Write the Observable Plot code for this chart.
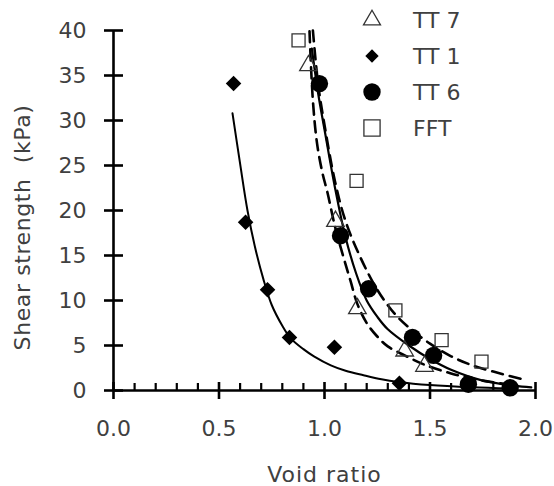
<!DOCTYPE html>
<html>
<head>
<meta charset="utf-8">
<script src="https://cdn.jsdelivr.net/npm/d3@7"></script>
<script src="https://cdn.jsdelivr.net/npm/@observablehq/plot@0.6"></script>
<style>
  html, body { margin: 0; padding: 0; background: #fff; }
  #wrap { position: relative; width: 554px; height: 486px; font-family: 'DejaVu Sans', sans-serif; }
  #legend { position: absolute; left: 360px; top: 2px; color: #404040; font-size: 22px; }
  .row { display: flex; align-items: center; height: 36px; }
  .row span { margin-left: 29px; }
  g[aria-label="x-axis label"] text { letter-spacing: 1px; }
  .ytitle text { letter-spacing: 0.6px; }
</style>
</head>
<body>
<div id="wrap">
  <div id="chart"></div>
  <div id="legend"></div>
</div>
<script>
// ---- measured points ----
const tt7X = [0.924, 1.052, 1.156, 1.38, 1.474];
const tt7Y = [36.1, 18.8, 9.1, 4.4, 2.7];
const tt1X = [0.569, 0.626, 0.73, 0.834, 1.047, 1.355];
const tt1Y = [34.1, 18.7, 11.2, 5.9, 4.8, 0.8];
const tt6X = [0.976, 1.076, 1.209, 1.417, 1.517, 1.682, 1.88];
const tt6Y = [34.1, 17.2, 11.3, 5.9, 3.9, 0.7, 0.3];
const fftX = [0.877, 1.152, 1.336, 1.555, 1.744];
const fftY = [38.9, 23.3, 8.9, 5.6, 3.2];

// ---- fitted curves ----
const tt1FitX = [0.564, 0.6, 0.635, 0.67, 0.71, 0.75, 0.8, 0.84, 0.9, 0.95, 1.03, 1.1, 1.185, 1.27, 1.35, 1.5, 1.7, 1.9];
const tt1FitY = [30.8, 25.2, 20, 16.0, 12.4, 9.5, 7.2, 5.8, 4.6, 3.8, 2.8, 2.2, 1.7, 1.25, 0.95, 0.6, 0.35, 0.2];
const tt6FitX = [0.94, 0.97, 1.0, 1.05, 1.1, 1.15, 1.2, 1.25, 1.3, 1.4, 1.5, 1.6, 1.75, 1.9, 1.98];
const tt6FitY = [38, 33, 29, 22.5, 17, 13, 10, 8.2, 6.8, 5.0, 3.5, 2.3, 1.1, 0.55, 0.35];
const tt7FitX = [0.929, 0.945, 0.965, 0.99, 1.014, 1.05, 1.09, 1.123, 1.156, 1.2, 1.25, 1.3, 1.38, 1.47, 1.6, 1.75, 1.9];
const tt7FitY = [39.9, 32.2, 27.4, 24.2, 22.0, 18.2, 14.8, 12.2, 9.6, 7.5, 6.0, 4.9, 3.9, 2.9, 1.9, 1.1, 0.6];
const fftFitX = [0.945, 0.97, 1.0, 1.05, 1.1, 1.17, 1.25, 1.33, 1.4, 1.5, 1.6, 1.7, 1.8, 1.93];
const fftFitY = [40, 34, 29.5, 23.2, 18.8, 14.8, 11.2, 8.6, 7.0, 5.2, 3.8, 2.8, 2.1, 1.3];

// ---- axes ----
const yTicks = [0, 5, 10, 15, 20, 25, 30, 35, 40];
const xMajor = [0, 0.5, 1.0, 1.5, 2.0];
const xMinor = [0.1, 0.2, 0.3, 0.4, 0.6, 0.7, 0.8, 0.9, 1.1, 1.2, 1.3, 1.4, 1.6, 1.7, 1.8, 1.9];
const xTitle = "Void ratio";
const yTitle = "Shear strength\u00a0 (kPa)";

// ---- legend ----
const legendNames = ["TT 7", "TT 1", "TT 6", "FFT"];

const zip = (xs, ys) => xs.map((x, i) => ({x, y: ys[i]}));

const lineBase = {x: "x", y: "y", stroke: "black", curve: "catmull-rom"};
const axisStroke = {stroke: "black", strokeWidth: 2.6};

const chart = Plot.plot({
  width: 554,
  height: 486,
  marginLeft: 113,
  marginRight: 19,
  marginTop: 30,
  marginBottom: 96,
  style: {fontFamily: "'DejaVu Sans', sans-serif", fontSize: "22px", color: "#404040", background: "white", overflow: "visible"},
  x: {domain: [0, 2]},
  y: {domain: [0, 40]},
  marks: [
    Plot.line(zip(tt1FitX, tt1FitY), {...lineBase, strokeWidth: 2}),
    Plot.line(zip(tt6FitX, tt6FitY), {...lineBase, strokeWidth: 2.2}),
    Plot.line(zip(tt7FitX, tt7FitY), {...lineBase, strokeWidth: 2.6, strokeDasharray: "11,7"}),
    Plot.line(zip(fftFitX, fftFitY), {...lineBase, strokeWidth: 2.6, strokeDasharray: "11,7"}),
    // axis lines
    Plot.ruleX([0], axisStroke),
    Plot.ruleY([0], axisStroke),
    // y ticks crossing the axis
    Plot.ruleY(yTicks, {y: d => d, x1: 0, x2: 0, insetLeft: -9, insetRight: -10, ...axisStroke}),
    // x major ticks crossing, minor ticks upward
    Plot.ruleX(xMajor, {x: d => d, y1: 0, y2: 0, insetTop: -8, insetBottom: -9, ...axisStroke}),
    Plot.ruleX(xMinor, {x: d => d, y1: 0, y2: 0, insetTop: -7, insetBottom: 0, stroke: "black", strokeWidth: 2.2}),
    // labels
    Plot.axisY({ticks: yTicks, tickSize: 0, tickPadding: 27, label: null}),
    Plot.text([yTitle], {text: d => d, frameAnchor: "left", textAnchor: "middle", lineAnchor: "middle", rotate: -90, dx: -91, dy: 17, fill: "#404040", fontSize: 22, className: "ytitle"}),
    Plot.axisX({ticks: xMajor, tickSize: 0, tickPadding: 30, tickFormat: d => d.toFixed(1), label: xTitle, labelAnchor: "center", labelOffset: 91, labelArrow: "none"}),
    // markers
    Plot.dot(zip(tt1X, tt1Y), {x: "x", y: "y", symbol: "diamond2", r: 7, fill: "black"}),
    Plot.dot(zip(tt6X, tt6Y), {x: "x", y: "y", symbol: "circle", r: 8.7, fill: "black"}),
    Plot.dot(zip(tt7X, tt7Y), {x: "x", y: "y", symbol: "triangle2", r: 8.4, fill: "none", stroke: "#333", strokeWidth: 1.3}),
    Plot.dot(zip(fftX, fftY), {x: "x", y: "y", symbol: "square2", r: 8.3, fill: "none", stroke: "#333", strokeWidth: 1.3})
  ]
});
document.getElementById("chart").appendChild(chart);

// legend rows
const legendSymbols = [
  {type: d3.symbolTriangle2, r: 8.1, fill: "none", stroke: "#333"},
  {type: d3.symbolDiamond2, r: 6, fill: "black", stroke: "none"},
  {type: d3.symbolCircle, r: 8.7, fill: "black", stroke: "none"},
  {type: d3.symbolSquare2, r: 10.3, fill: "none", stroke: "#333"}
];
const legend = d3.select("#legend");
legendNames.forEach((name, i) => {
  const s = legendSymbols[i];
  const row = legend.append("div").attr("class", "row");
  const svg = row.append("svg").attr("width", 24).attr("height", 24);
  svg.append("path")
    .attr("transform", "translate(12,12)")
    .attr("d", d3.symbol(s.type, Math.PI * s.r * s.r)())
    .attr("fill", s.fill)
    .attr("stroke", s.stroke)
    .attr("stroke-width", 1.3);
  row.append("span").text(name);
});
</script>
</body>
</html>
